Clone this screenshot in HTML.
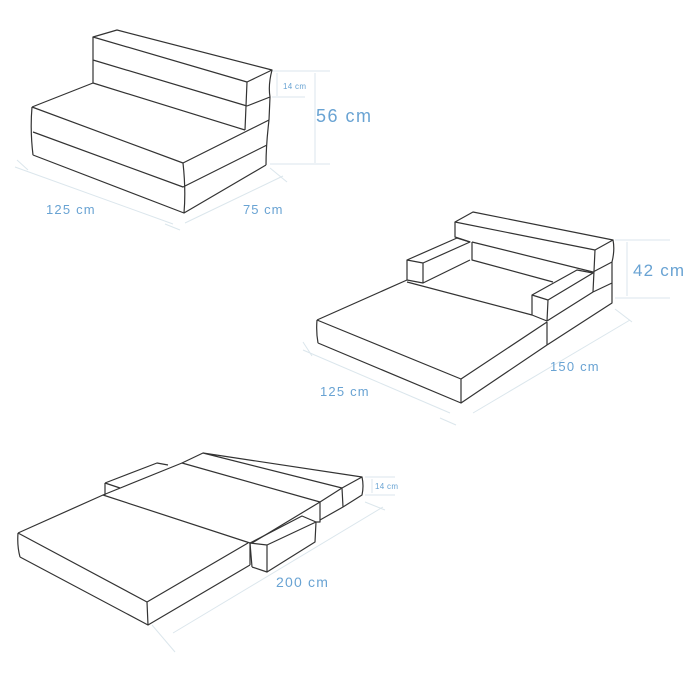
<!DOCTYPE html>
<html><head><style>
html,body{margin:0;padding:0;background:#fff;}
svg{display:block}
text{font-family:"Liberation Sans",sans-serif;fill:#69a3d3;}
</style></head><body>
<svg width="700" height="700" viewBox="0 0 700 700" xmlns="http://www.w3.org/2000/svg">
<g fill="none" stroke="#dbe6ec" stroke-width="1">
<line x1="272" y1="71" x2="330" y2="71"/><line x1="272" y1="97" x2="305" y2="97"/><line x1="270" y1="164" x2="330" y2="164"/>
<line x1="277" y1="73" x2="277" y2="96"/><line x1="315" y1="73" x2="315" y2="163"/>
<line x1="15" y1="167" x2="173" y2="224"/><line x1="17" y1="160" x2="28" y2="170"/><line x1="165" y1="224" x2="180" y2="230"/>
<line x1="185" y1="223" x2="283" y2="176"/><line x1="270" y1="168" x2="287" y2="182"/>
<line x1="615" y1="240" x2="670" y2="240"/><line x1="615" y1="298" x2="670" y2="298"/><line x1="627" y1="242" x2="627" y2="296"/>
<line x1="303" y1="350" x2="450" y2="413"/><line x1="303" y1="342" x2="312" y2="356"/><line x1="440" y1="418" x2="456" y2="425"/>
<line x1="473" y1="413" x2="630" y2="320"/><line x1="615" y1="309" x2="632" y2="322"/>
<line x1="365" y1="477" x2="395" y2="477"/><line x1="365" y1="495" x2="395" y2="495"/><line x1="372" y1="479" x2="372" y2="493"/>
<line x1="173" y1="633" x2="383" y2="507"/><line x1="152" y1="625" x2="175" y2="652"/><line x1="365" y1="502" x2="385" y2="510"/>
</g>
<g fill="none" stroke="#333" stroke-width="1.2" stroke-linejoin="round">
<path d="M93,37 L117,30 L272,70 L247,82 Z"/>
<path d="M93,37 L93,83 M93,60 L247,106 M247,82 L245,130 M272,70 Q268,85 270,97 L247,106 M270,97 L269,120"/>
<path d="M32,107 L93,83 M32,107 L183,163 L269,120 M33,132 L183,187 L267,145 M33,155 L184,213 L266,165 M32,107 Q30,130 33,155 M183,163 Q186,190 184,213 M269,120 Q266,145 266,165 M93,83 L245,130"/>
<path d="M455,222 L473,212 L613,240 L595,250 Z"/>
<path d="M455,222 L455,237 L470,242 M472,242 L593,272 M595,250 L593,292 M613,240 Q615,250 612,262 L593,272 M612,262 L612,283 L593,292 M612,283 L612,303 L547,345"/>
<path d="M472,242 L472,260 L553,282"/>
<path d="M407,260 L457,238 L470,242 L423,263 Z M407,260 L407,280 L423,283 L423,263 M423,283 L470,260"/>
<path d="M532,295 L577,270 L593,273 L548,300 Z M532,295 L532,315 L547,321 L548,300 M547,321 L593,292"/>
<path d="M317,320 L407,280 M317,320 L461,379 L547,322 M318,343 L461,403 L547,345 M317,320 Q316,332 318,343 M461,379 L461,403 M547,322 L547,345 M407,282 L532,315"/>
<path d="M18,533 L103,495 L250,543 M18,533 L147,602 L248,543 M20,557 L148,625 L250,565 M18,533 Q17,546 20,557 M147,602 L148,625 M250,543 L250,565"/>
<path d="M103,495 L182,463 L320,502 L252,543 M320,502 L320,522 L316,522"/>
<path d="M182,463 L203,453 L362,477 L342,488 M203,453 L342,488 M320,502 L342,488 L343,507 L320,520 M362,477 Q364,486 362,495 L343,507"/>
<path d="M105,483 L157,463 L168,465 M105,483 L120,488 M105,483 L105,495"/>
<path d="M250,543 L302,516 L316,522 L267,545 Z M252,567 L267,572 L267,545 M267,572 L315,542 L316,522 M250,543 L252,567"/>
</g>
<text x="283" y="89" font-size="8" letter-spacing="0.3">14 cm</text>
<text x="316" y="122" font-size="18" letter-spacing="1.5">56 cm</text>
<text x="46" y="214" font-size="13" letter-spacing="1.2">125 cm</text>
<text x="243" y="214" font-size="13" letter-spacing="1">75 cm</text>
<text x="633" y="276" font-size="17" letter-spacing="1.2">42 cm</text>
<text x="550" y="371" font-size="13" letter-spacing="1.2">150 cm</text>
<text x="320" y="396" font-size="13" letter-spacing="1.2">125 cm</text>
<text x="375" y="489" font-size="8" letter-spacing="0.3">14 cm</text>
<text x="276" y="587" font-size="14" letter-spacing="1.2">200 cm</text>
</svg>
</body></html>
